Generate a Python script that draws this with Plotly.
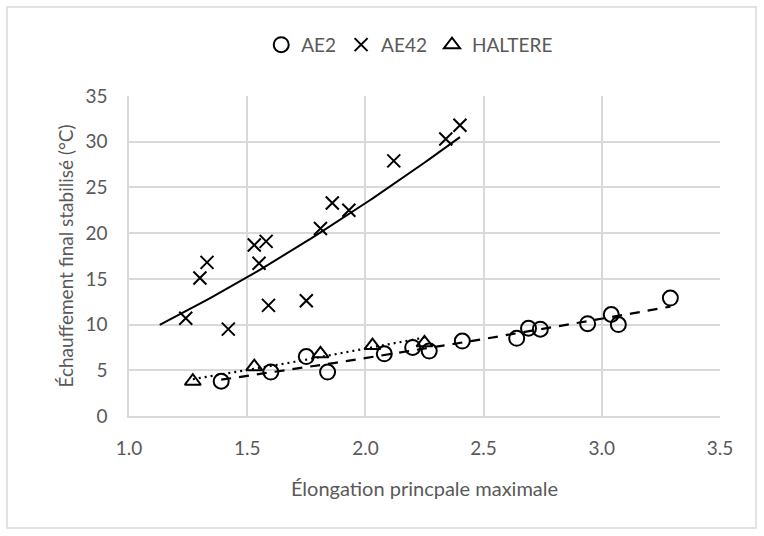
import numpy as np
import plotly.graph_objects as go

# Measured points: maximum principal elongation vs stabilised final heating (°C)
ae2_x = [1.39, 1.60, 1.75, 1.84, 2.08, 2.20, 2.27, 2.41, 2.64, 2.69, 2.74, 2.94, 3.04, 3.07, 3.29]
ae2_y = [3.8, 4.8, 6.5, 4.8, 6.8, 7.5, 7.1, 8.2, 8.5, 9.6, 9.5, 10.1, 11.1, 10.0, 12.9]

ae42_x = [1.24, 1.30, 1.33, 1.42, 1.53, 1.55, 1.58, 1.59, 1.75, 1.81, 1.86, 1.93, 2.12, 2.34, 2.40]
ae42_y = [10.7, 15.1, 16.8, 9.5, 18.7, 16.7, 19.1, 12.1, 12.6, 20.5, 23.3, 22.5, 27.9, 30.3, 31.8]

haltere_x = [1.27, 1.53, 1.81, 2.03, 2.25]
haltere_y = [3.8, 5.4, 6.8, 7.7, 8.0]

x_ticks = [1.0, 1.5, 2.0, 2.5, 3.0, 3.5]
y_ticks = [0, 5, 10, 15, 20, 25, 30, 35]

TEXT = "#595959"
GRID = "#d9d9d9"
FONT = "Lato, Open Sans, sans-serif"


def power_fit(xs, ys, x0, x1, n=60):
    """Least-squares power-law trend y = a * x^b, sampled over [x0, x1]."""
    b, ln_a = np.polyfit(np.log(xs), np.log(ys), 1)
    xx = np.linspace(x0, x1, n)
    return xx, np.exp(ln_a) * xx ** b


fig = go.Figure()

# Trend curves
tx, ty = power_fit(ae42_x, ae42_y, 1.13, max(ae42_x))
fig.add_trace(go.Scatter(x=tx, y=ty, mode="lines", showlegend=False, hoverinfo="skip",
                         line=dict(color="black", width=2)))
tx, ty = power_fit(ae2_x, ae2_y, min(ae2_x), max(ae2_x))
fig.add_trace(go.Scatter(x=tx, y=ty, mode="lines", showlegend=False, hoverinfo="skip",
                         line=dict(color="black", width=2.2, dash="10px,8px")))
tx, ty = power_fit(haltere_x, haltere_y, min(haltere_x), max(haltere_x))
fig.add_trace(go.Scatter(x=tx, y=ty, mode="lines", showlegend=False, hoverinfo="skip",
                         line=dict(color="black", width=2.2, dash="2px,4px")))

# Data series
fig.add_trace(go.Scatter(x=ae2_x, y=ae2_y, mode="markers", name="AE2",
                         marker=dict(symbol="circle-open", size=15, color="black",
                                     line=dict(width=2, color="black"))))
fig.add_trace(go.Scatter(x=ae42_x, y=ae42_y, mode="markers", name="AE42",
                         marker=dict(symbol="x-thin-open", size=13, color="black",
                                     line=dict(width=2, color="black"))))
fig.add_trace(go.Scatter(x=haltere_x, y=haltere_y, mode="markers", name="HALTERE",
                         marker=dict(symbol="triangle-up-open", size=14, color="black",
                                     line=dict(width=2, color="black"))))

fig.update_layout(
    width=764, height=536,
    margin=dict(l=129, r=44, t=96, b=120),
    paper_bgcolor="white", plot_bgcolor="white",
    font=dict(family=FONT, color=TEXT, size=18),
    showlegend=True,
    legend=dict(orientation="h", x=0.475, xanchor="center", y=1.16, yanchor="middle",
                font=dict(size=19, color=TEXT), itemwidth=30, tracegroupgap=0,
                bgcolor="rgba(0,0,0,0)"),
    xaxis=dict(range=[1.0, 3.5], tickvals=x_ticks, ticktext=[f"{v:.1f}" for v in x_ticks],
               showgrid=True, gridcolor=GRID, gridwidth=1.5, zeroline=False,
               showline=True, linecolor=GRID, linewidth=1.5, mirror=False,
               ticks="", ticklabelstandoff=14, tickfont=dict(size=19, color=TEXT),
               title=dict(text="Élongation princpale maximale", font=dict(size=20, color=TEXT),
                          standoff=24)),
    yaxis=dict(range=[0, 35], tickvals=y_ticks, showgrid=True, gridcolor=GRID, gridwidth=1.5,
               zeroline=False, showline=True, linecolor=GRID, linewidth=1.5,
               ticks="", ticklabelstandoff=16, tickfont=dict(size=19, color=TEXT),
               title=dict(text="Échauffement final stabilisé (°C)", font=dict(size=19, color=TEXT),
                          standoff=7)),
    shapes=[dict(type="rect", xref="paper", yref="paper",
                 x0=-0.2064, x1=1.0609, y0=-0.35, y1=1.278,
                 line=dict(color=GRID, width=1.5), fillcolor="rgba(0,0,0,0)", layer="below")],
)

fig.write_html("out.html")
